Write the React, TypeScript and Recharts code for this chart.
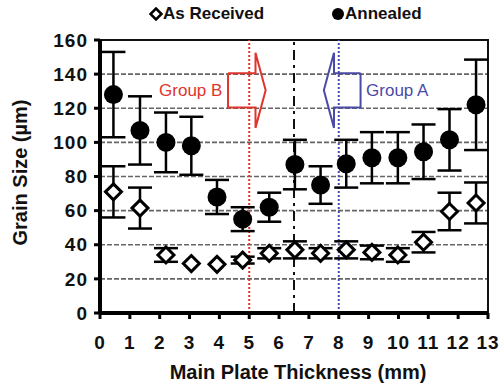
import {
  CartesianGrid,
  ComposedChart,
  ErrorBar,
  Label,
  Line,
  ReferenceArea,
  ReferenceDot,
  ReferenceLine,
  Scatter,
  XAxis,
  YAxis,
} from "recharts";

const FONT = '"Liberation Sans", Arial, Helvetica, sans-serif';

// sample positions through the plate (mm)
const thickness = [0.45, 1.34, 2.21, 3.06, 3.92, 4.78, 5.67, 6.53, 7.39, 8.25, 9.11, 9.98, 10.84, 11.71, 12.6];
const annealed = [128, 107, 100, 98, 68, 55, 62, 87, 75, 87.5, 91, 91, 94.5, 101.5, 122];
const annealedErr = [25, 20, 17.5, 17, 10, 7, 8.5, 14.5, 11, 14, 15, 15, 16, 18, 26.5];
const asReceived = [71, 61.5, 34, 29, 28.5, 31, 35, 37, 35, 37, 35.5, 34, 41.5, 59.5, 64.5];
const asReceivedErr = [15, 12, 4, 0, 0, 2, 3, 5, 3, 5, 4, 4, 6, 11, 12];

const xTicks = [0, 1, 2, 3, 4, 5, 6, 7, 8, 9, 10, 11, 12, 13];
const yTicks = [0, 20, 40, 60, 80, 100, 120, 140, 160];

// arrow outlines (mm, µm)
const groupBX = [4.29, 5.21, 5.21, 5.55, 5.21, 5.21, 4.29, 4.29];
const groupAX = [8.73, 7.84, 7.84, 7.5, 7.84, 7.84, 8.73, 8.73];
const arrowY = [140.5, 140.5, 152.5, 130.5, 108.5, 120.5, 120.5, 140.5];

const annealedData = thickness.map((x, i) => ({ x, y: annealed[i], err: annealedErr[i] }));
const receivedData = thickness.map((x, i) => ({ x, y: asReceived[i], err: asReceivedErr[i] }));
const groupBData = groupBX.map((x, i) => ({ x, y: arrowY[i] }));
const groupAData = groupAX.map((x, i) => ({ x, y: arrowY[i] }));

const RED = "#e0352c";
const BLUE = "#4a4aa8";

const NoMark = () => <g />;

const BlackDot = (p: any) => <circle cx={p.cx} cy={p.cy} r={9.5} fill="#000" />;

const Diamond = (p: any) => {
  const s = 8;
  return (
    <path
      d={`M${p.cx},${p.cy - s}L${p.cx + s},${p.cy}L${p.cx},${p.cy + s}L${p.cx - s},${p.cy}Z`}
      fill="#fff"
      stroke="#000"
      strokeWidth={3}
    />
  );
};

const YTitle = (props: any) => {
  const vb = props.viewBox;
  const cx = vb.x + 20;
  const cy = vb.y + vb.height / 2 - 4;
  return (
    <text
      x={cx}
      y={cy}
      transform={`rotate(-90 ${cx} ${cy})`}
      textAnchor="middle"
      dominantBaseline="central"
      fontFamily={FONT}
      fontWeight={700}
      fontSize={20}
      fill="#111"
    >
      Grain Size (µm)
    </text>
  );
};

const XTitle = (props: any) => {
  const vb = props.viewBox;
  return (
    <text
      x={vb.x + vb.width / 2 + 4}
      y={372}
      textAnchor="middle"
      dominantBaseline="central"
      fontFamily={FONT}
      fontWeight={700}
      fontSize={20}
      fill="#111"
    >
      Main Plate Thickness (mm)
    </text>
  );
};

const tickStyle = { fill: "#111", fontSize: 19, fontWeight: 700, fontFamily: FONT, letterSpacing: 1 };

export default function App() {
  return (
    <div style={{ position: "absolute", left: 0, top: 0, width: 504, height: 384, background: "#fff" }}>
      <div
        style={{
          position: "absolute",
          top: 4,
          left: 0,
          width: 504,
          height: 22,
          fontFamily: FONT,
          fontWeight: 700,
          fontSize: 17,
          color: "#111",
        }}
      >
        <svg width={14} height={14} style={{ position: "absolute", left: 149, top: 3 }}>
          <path d="M7,1.5L12.5,7L7,12.5L1.5,7Z" fill="#fff" stroke="#000" strokeWidth={2.5} />
        </svg>
        <span style={{ position: "absolute", left: 163, top: 0 }}>As Received</span>
        <svg width={14} height={14} style={{ position: "absolute", left: 331, top: 3 }}>
          <circle cx={7} cy={7} r={6} fill="#000" />
        </svg>
        <span style={{ position: "absolute", left: 345, top: 0 }}>Annealed</span>
      </div>
      <ComposedChart width={504} height={384} margin={{ top: 40, right: 16, bottom: 0, left: 0 }}>
        <CartesianGrid horizontal vertical={false} stroke="#666" strokeDasharray="5 2" strokeWidth={1.6} />
        <ReferenceArea x1={0} x2={13} y1={0} y2={160} fill="none" stroke="#111" strokeWidth={2} />
        <XAxis
          type="number"
          dataKey="x"
          domain={[0, 13]}
          ticks={xTicks}
          interval={0}
          height={71}
          tick={tickStyle}
          tickSize={6}
          tickMargin={17}
          axisLine={{ stroke: "#000", strokeWidth: 4 }}
          tickLine={{ stroke: "#000", strokeWidth: 3 }}
        >
          <Label content={XTitle} />
        </XAxis>
        <YAxis
          type="number"
          domain={[0, 160]}
          ticks={yTicks}
          interval={0}
          width={100}
          tick={tickStyle}
          tickSize={6}
          tickMargin={6}
          axisLine={{ stroke: "#000", strokeWidth: 4 }}
          tickLine={{ stroke: "#000", strokeWidth: 3 }}
        >
          <Label content={YTitle} />
        </YAxis>
        <ReferenceLine x={5} stroke={RED} strokeWidth={2} strokeDasharray="2 2" />
        <ReferenceLine x={6.5} stroke="#111" strokeWidth={2} strokeDasharray="10 5 3 5" />
        <ReferenceLine x={8} stroke={BLUE} strokeWidth={2} strokeDasharray="2 2" />
        <Line data={groupBData} dataKey="y" type="linear" stroke={RED} strokeWidth={2} dot={false} activeDot={false} isAnimationActive={false} />
        <Line data={groupAData} dataKey="y" type="linear" stroke={BLUE} strokeWidth={2} dot={false} activeDot={false} isAnimationActive={false} />
        <ReferenceDot
          x={3.04}
          y={130.5}
          r={0}
          fill="none"
          stroke="none"
          label={{ value: "Group B", position: "center", fill: RED, fontSize: 17, fontFamily: FONT }}
        />
        <ReferenceDot
          x={9.96}
          y={130.5}
          r={0}
          fill="none"
          stroke="none"
          label={{ value: "Group A", position: "center", fill: BLUE, fontSize: 17, fontFamily: FONT }}
        />
        {/* error bars first, markers on top of them */}
        <Scatter data={annealedData} dataKey="y" shape={NoMark} isAnimationActive={false} legendType="none">
          <ErrorBar dataKey="err" direction="y" width={12} stroke="#000" strokeWidth={2.5} />
        </Scatter>
        <Scatter data={receivedData} dataKey="y" shape={NoMark} isAnimationActive={false} legendType="none">
          <ErrorBar dataKey="err" direction="y" width={12} stroke="#000" strokeWidth={2.5} />
        </Scatter>
        <Scatter name="Annealed" data={annealedData} dataKey="y" shape={BlackDot} isAnimationActive={false} />
        <Scatter name="As Received" data={receivedData} dataKey="y" shape={Diamond} isAnimationActive={false} />
      </ComposedChart>
    </div>
  );
}
